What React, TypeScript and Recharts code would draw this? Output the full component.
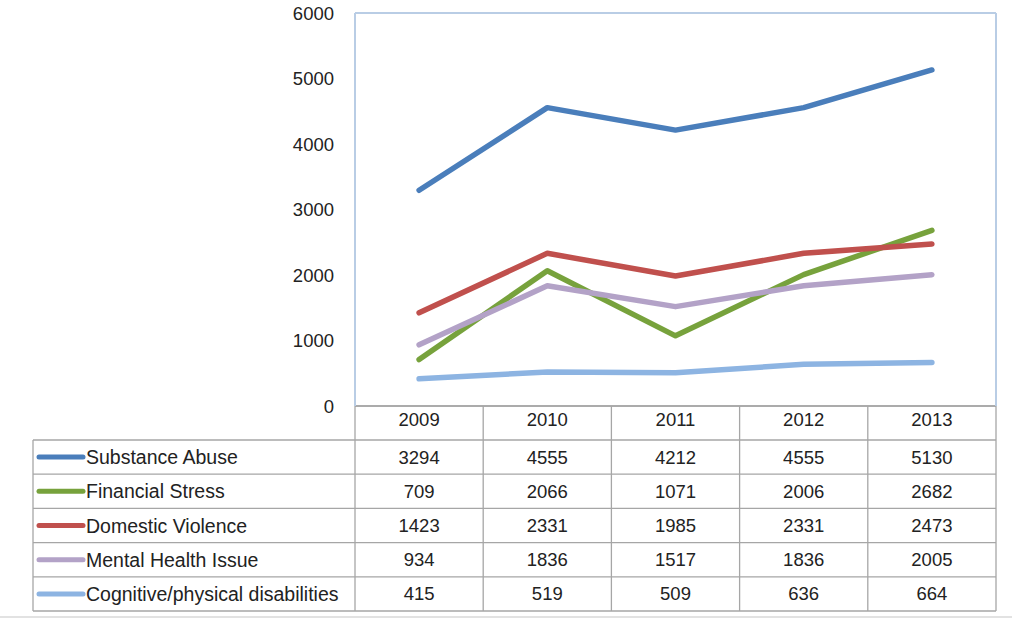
import React from "react";
import { LineChart, Line, XAxis, YAxis, CartesianGrid, ReferenceLine } from "recharts";

const years = ["2009", "2010", "2011", "2012", "2013"];
const substanceAbuse = [3294, 4555, 4212, 4555, 5130];
const financialStress = [709, 2066, 1071, 2006, 2682];
const domesticViolence = [1423, 2331, 1985, 2331, 2473];
const mentalHealth = [934, 1836, 1517, 1836, 2005];
const cognitive = [415, 519, 509, 636, 664];
const yTicks = [0, 1000, 2000, 3000, 4000, 5000, 6000];

const series = [
  { key: "sa", name: "Substance Abuse", values: substanceAbuse, color: "#4a7ebb" },
  { key: "fs", name: "Financial Stress", values: financialStress, color: "#77a23c" },
  { key: "dv", name: "Domestic Violence", values: domesticViolence, color: "#c0504d" },
  { key: "mh", name: "Mental Health Issue", values: mentalHealth, color: "#b3a2c7" },
  { key: "cp", name: "Cognitive/physical disabilities", values: cognitive, color: "#8db4e2" },
];

const data = years.map((y, i) => {
  const row: Record<string, string | number> = { year: y };
  series.forEach((s) => (row[s.key] = s.values[i]));
  return row;
});

const FONT = "'Liberation Sans', Arial, sans-serif";
const W = 1012;
const H = 620;
const PLOT_L = 355;
const RIGHT_W = 16;
const PLOT_R = W - RIGHT_W;
const PLOT_T = 13;
const PLOT_B = 406;
const HEADER_B = 440;
const ROW_H = 34.2;
const TABLE_L = 33;
const GRID = "#a6a6a6";
const FRAME = "#b9cde5";
const TEXT = "#222";
const NUM_FS = 18.5;
const LABEL_FS = 19.5;
const COL_W = (PLOT_R - PLOT_L) / years.length;

function Table() {
  const bottom = HEADER_B + ROW_H * series.length;
  return (
    <svg width={W} height={H} style={{ position: "absolute", left: 0, top: 0, pointerEvents: "none" }}>
      {years.map((_, i) => (
        <line key={"v" + i} x1={PLOT_L + i * COL_W} x2={PLOT_L + i * COL_W} y1={PLOT_B} y2={bottom} stroke={GRID} strokeWidth={1.3} />
      ))}
      <line x1={PLOT_R} x2={PLOT_R} y1={PLOT_B} y2={bottom} stroke={GRID} strokeWidth={1.3} />
      <line x1={TABLE_L} x2={TABLE_L} y1={HEADER_B} y2={bottom} stroke={GRID} strokeWidth={1.3} />
      {series.map((_, i) => (
        <line key={"h" + i} x1={TABLE_L} x2={PLOT_R} y1={HEADER_B + i * ROW_H} y2={HEADER_B + i * ROW_H} stroke={GRID} strokeWidth={1.3} />
      ))}
      <line x1={TABLE_L} x2={PLOT_R} y1={bottom} y2={bottom} stroke={GRID} strokeWidth={1.3} />
      {series.map((s, i) => {
        const cy = HEADER_B + i * ROW_H + ROW_H / 2;
        return (
          <g key={s.key}>
            <line x1={39} x2={83} y1={cy} y2={cy} stroke={s.color} strokeWidth={5} strokeLinecap="round" />
            <text x={86} y={cy} dominantBaseline="central" fontSize={LABEL_FS} fill={TEXT} fontFamily={FONT}>
              {s.name}
            </text>
            {s.values.map((v, j) => (
              <text key={j} x={PLOT_L + (j + 0.5) * COL_W} y={cy} textAnchor="middle" dominantBaseline="central" fontSize={NUM_FS} fill={TEXT} fontFamily={FONT}>
                {v}
              </text>
            ))}
          </g>
        );
      })}
      <line x1={0} x2={W} y1={617} y2={617} stroke="#d9d9d9" strokeWidth={1.5} />
    </svg>
  );
}

export default function App() {
  return (
    <div style={{ position: "absolute", left: 0, top: 0, width: W, height: H, background: "#fff" }}>
      <LineChart
        width={W}
        height={H}
        data={data}
        margin={{ top: PLOT_T, right: 0, left: 0, bottom: H - HEADER_B }}
        style={{ fontFamily: FONT }}
      >
        <CartesianGrid vertical={false} stroke={GRID} strokeWidth={1.3} />
        <XAxis
          dataKey="year"
          height={HEADER_B - PLOT_B}
          padding={{ left: COL_W / 2, right: COL_W / 2 }}
          axisLine={{ stroke: GRID, strokeWidth: 1.3 }}
          tickLine={false}
          tickSize={0}
          tickMargin={7}
          tick={{ fontSize: NUM_FS, fill: TEXT, fontFamily: FONT }}
          interval={0}
        />
        <YAxis
          yAxisId="l"
          width={PLOT_L}
          domain={[0, 6000]}
          ticks={yTicks}
          interval={0}
          axisLine={{ stroke: FRAME, strokeWidth: 2 }}
          tickLine={false}
          tickSize={0}
          tickMargin={21}
          tick={{ fontSize: NUM_FS, fill: TEXT, fontFamily: FONT }}
        />
        <YAxis yAxisId="r" orientation="right" width={RIGHT_W} domain={[0, 6000]} tick={false} tickLine={false} axisLine={{ stroke: FRAME, strokeWidth: 2 }} />
        <ReferenceLine yAxisId="l" y={6000} stroke={FRAME} strokeWidth={2} />
        {series.map((s) => (
          <Line
            key={s.key}
            yAxisId="l"
            type="linear"
            dataKey={s.key}
            name={s.name}
            stroke={s.color}
            strokeWidth={5.5}
            strokeLinecap="round"
            strokeLinejoin="round"
            dot={false}
            activeDot={false}
            isAnimationActive={false}
          />
        ))}
      </LineChart>
      <Table />
    </div>
  );
}
